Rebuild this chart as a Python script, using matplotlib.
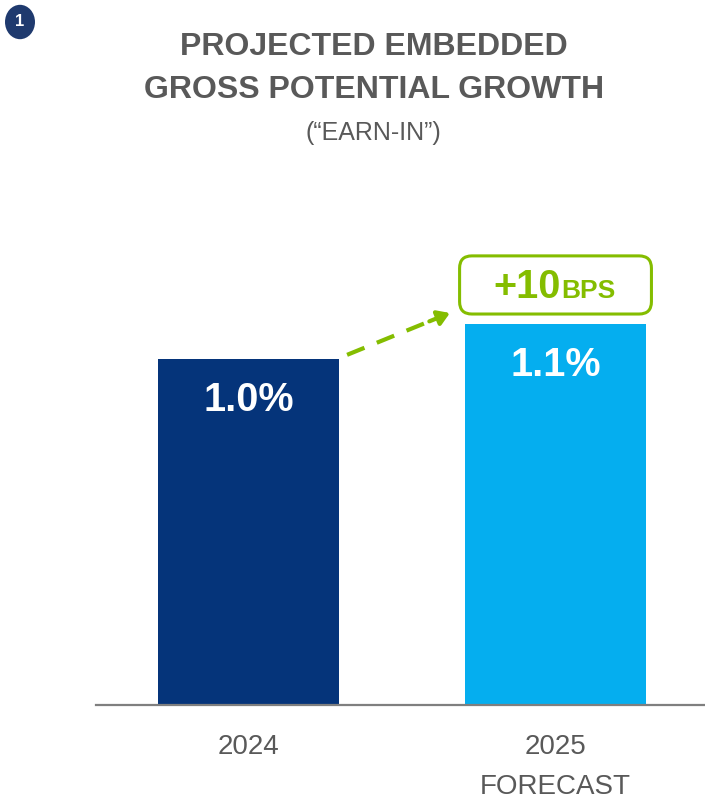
import matplotlib.pyplot as plt
from matplotlib.patches import FancyBboxPatch, Circle

# data
categories = ['2024', '2025\nFORECAST']
values = [1.0, 1.1]
value_labels = ['1.0%', '1.1%']
bar_colors = ['#05347a', '#05aeef']
change_big = '+10'
change_small = 'BPS'

GRAY = '#595959'
GREEN = '#84bd00'

plt.rcParams['font.family'] = ['Liberation Sans', 'DejaVu Sans']

fig = plt.figure(figsize=(7.05, 8.08), dpi=100)
ax = fig.add_axes([96 / 705, 103 / 808, 609 / 705, 505 / 808])

x = list(range(len(values)))
ax.bar(x, values, width=0.59, color=bar_colors, zorder=2)
ax.set_xlim(-0.497, 1.487)
ax.set_ylim(0, 505 / 346)

for s in ['top', 'right', 'left']:
    ax.spines[s].set_visible(False)
ax.spines['bottom'].set_color('#7f7f7f')
ax.spines['bottom'].set_linewidth(1.6)
ax.set_yticks([])
ax.set_xticks(x)
ax.set_xticklabels(categories, fontsize=20, color=GRAY, linespacing=1.7)
ax.tick_params(axis='x', length=0, pad=21)

# value labels inside bars
for xi, v, lab in zip(x, values, value_labels):
    ax.annotate(lab, (xi, v), xytext=(0, -29.5), textcoords='offset points',
                ha='center', va='center', color='white', fontsize=28.5,
                fontweight='bold')

# change box
box = FancyBboxPatch((1.0 - 0.3125, 1.214 - 0.084), 0.625, 0.168,
                     boxstyle='round,pad=0,rounding_size=0.04',
                     mutation_aspect=307 / 346, transform=ax.transData,
                     facecolor='white', edgecolor=GREEN, linewidth=2.2,
                     zorder=3, clip_on=False)
ax.add_patch(box)
ax.text(1.016, 1.177, change_big, ha='right', va='baseline', color=GREEN,
        fontsize=28.5, fontweight='bold', zorder=4)
ax.text(1.019, 1.177, change_small, ha='left', va='baseline', color=GREEN,
        fontsize=19, fontweight='bold', zorder=4)

# dashed arrow
x0, y0 = 0.321, 1.012
x1, y1 = 0.656, 1.133
fr = 0.86
ax.plot([x0, x0 + (x1 - x0) * fr], [y0, y0 + (y1 - y0) * fr], color=GREEN,
        lw=3, dashes=(4.5, 3.2), solid_capstyle='butt', zorder=3, clip_on=False)
ax.annotate('', xy=(x1, y1), xytext=(x0 + (x1 - x0) * 0.8, y0 + (y1 - y0) * 0.8),
            arrowprops=dict(arrowstyle='-|>,head_length=0.7,head_width=0.45',
                            color=GREEN, lw=3, shrinkA=0, shrinkB=0))

# title
fig.text(0.53, 1 - 47 / 808, 'PROJECTED EMBEDDED', ha='center', va='center',
         fontsize=23, fontweight='bold', color=GRAY)
fig.text(0.53, 1 - 90 / 808, 'GROSS POTENTIAL GROWTH', ha='center', va='center',
         fontsize=23, fontweight='bold', color=GRAY)
fig.text(0.53, 1 - 133 / 808, '(\u201cEARN-IN\u201d)', ha='center', va='center',
         fontsize=18, color=GRAY)

# numbered badge
fig.patches.append(Circle((20 / 705, 1 - 22 / 808), 15 / 705, transform=fig.transFigure,
                          facecolor='#1f3a6e', edgecolor='none'))
fig.text(20 / 705, 1 - 22 / 808, '1', ha='center', va='center', color='white',
         fontsize=12, fontweight='bold')

fig.savefig('out.png', dpi=100)
